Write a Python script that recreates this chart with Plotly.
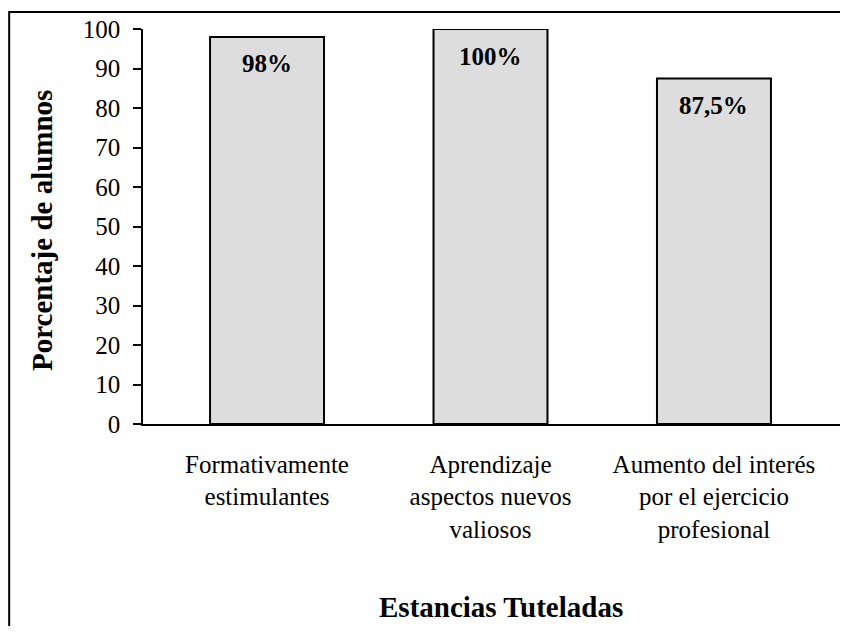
import plotly.graph_objects as go

# Datos
categorias = [
    "Formativamente<br>estimulantes",
    "Aprendizaje<br>aspectos nuevos<br>valiosos",
    "Aumento del interés<br>por el ejercicio<br>profesional",
]
porcentajes = [98, 100, 87.5]
etiquetas = ["98%", "100%", "87,5%"]

FUENTE = "Liberation Serif, Times New Roman, serif"

fig = go.Figure()

fig.add_trace(go.Bar(
    x=categorias,
    y=porcentajes,
    width=0.51,
    marker=dict(color="#DDDDDD", line=dict(color="black", width=2)),
    hoverinfo="skip",
))

# Etiquetas de valor dentro de las barras
for cat, val, txt in zip(categorias, porcentajes, etiquetas):
    fig.add_annotation(
        x=cat, y=val, text=txt, showarrow=False,
        yanchor="middle", yshift=-27,
        font=dict(family=FUENTE, size=25, color="black", weight="bold"),
    )

# Titulos de ejes
fig.add_annotation(
    text="<b>Porcentaje de alumnos</b>", textangle=-90,
    xref="paper", yref="paper", x=-0.145, y=0.491,
    xanchor="center", yanchor="middle",
    showarrow=False, font=dict(family=FUENTE, size=29, color="black"),
)
fig.add_annotation(
    text="<b>Estancias Tuteladas</b>",
    xref="paper", yref="paper", x=0.514, y=-0.463,
    xanchor="center", yanchor="middle",
    showarrow=False, font=dict(family=FUENTE, size=29, color="black"),
)

# Marco exterior (se sale por la derecha y por abajo)
fig.add_shape(
    type="rect", xref="paper", yref="paper",
    x0=-0.192, x1=1.3, y0=-0.9, y1=1.043,
    line=dict(color="black", width=2), layer="below",
)

fig.update_layout(
    width=832, height=618,
    margin=dict(l=135, r=0, t=21, b=202),
    plot_bgcolor="white", paper_bgcolor="white",
    showlegend=False,
    font=dict(family=FUENTE, color="black"),
    xaxis=dict(
        range=[-0.555, 2.564],
        showline=True, linecolor="black", linewidth=1.5,
        ticks="", showgrid=False,
        tickfont=dict(size=25),
        ticklabelstandoff=17,
    ),
    yaxis=dict(
        range=[0, 100], dtick=10,
        showline=True, linecolor="black", linewidth=1.5,
        ticks="outside", ticklen=8, tickcolor="black", tickwidth=1.5,
        showgrid=False, zeroline=False,
        tickfont=dict(size=25),
        ticklabelstandoff=8,
    ),
)

fig.write_html("out.html")
